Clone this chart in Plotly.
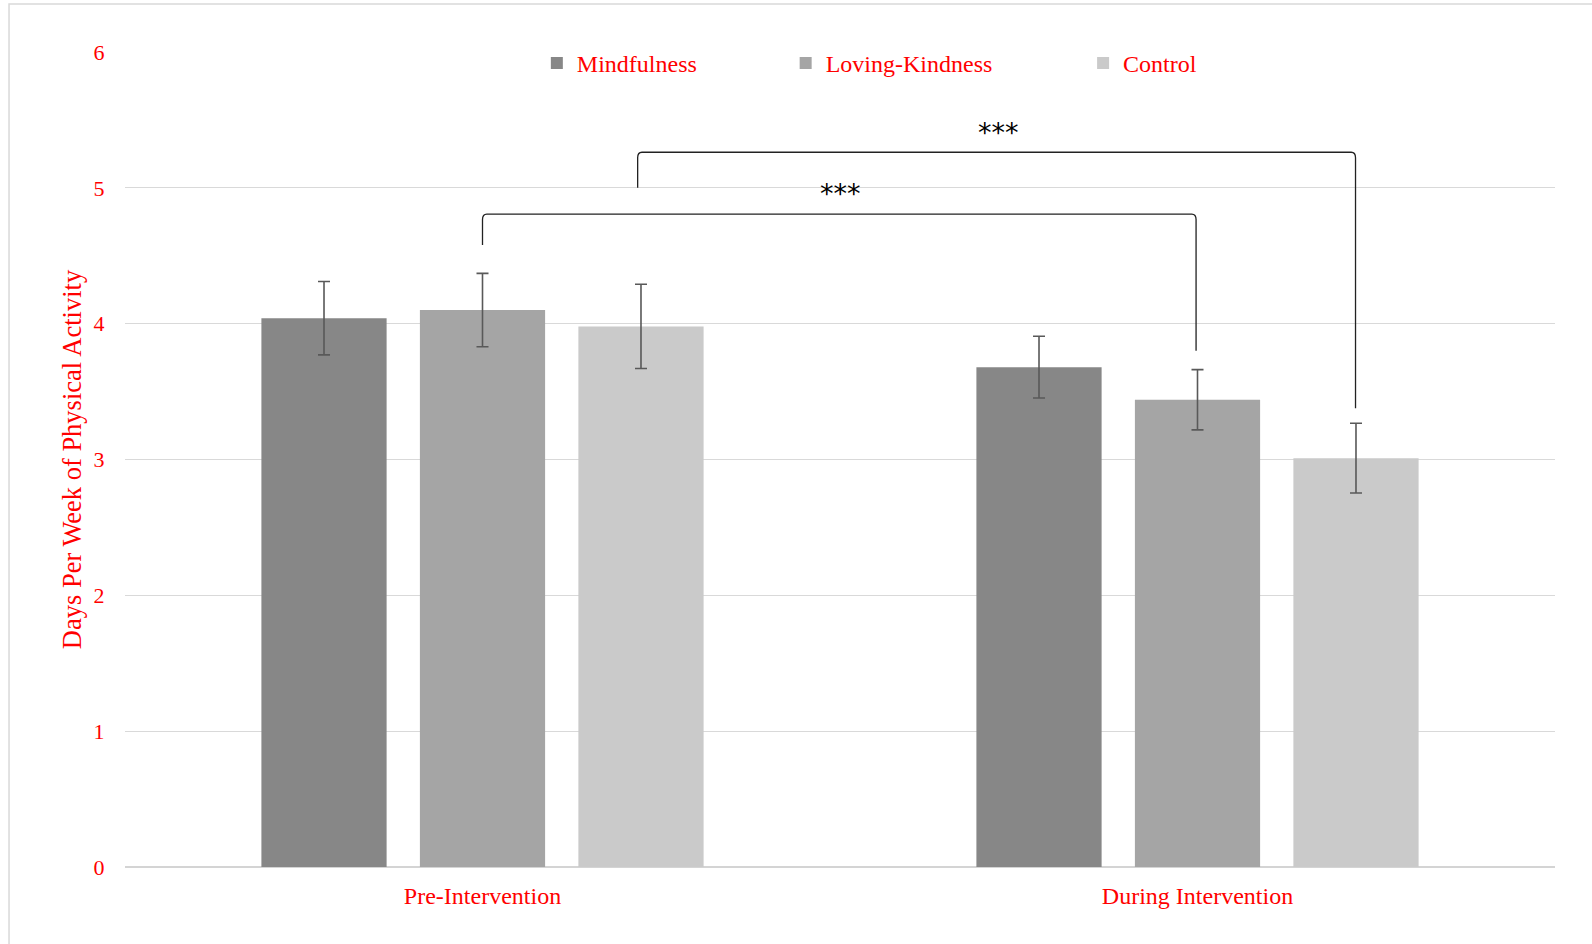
import plotly.graph_objects as go

# ---- data ----
categories = ["Pre-Intervention", "During Intervention"]
series_names = ["Mindfulness", "Loving-Kindness", "Control"]
mindfulness = [4.04, 3.68]
loving_kindness = [4.10, 3.44]
control = [3.98, 3.01]
mindfulness_err = [0.27, 0.227]
loving_kindness_err = [0.27, 0.222]
control_err = [0.31, 0.257]
y_ticks = [0, 1, 2, 3, 4, 5, 6]
sig_label = "***"

colors = ["#878787", "#a5a5a5", "#cacaca"]
values = [mindfulness, loving_kindness, control]
errors = [mindfulness_err, loving_kindness_err, control_err]
cat_pos = list(range(len(categories)))

FONT = "Liberation Serif, Times New Roman, serif"
RED = "#ff0000"

fig = go.Figure()
legend_ids = ["legend", "legend2", "legend3"]
for name, vals, errs, col, lg in zip(series_names, values, errors, colors, legend_ids):
    fig.add_trace(go.Bar(
        x=cat_pos, y=vals, name=name, legend=lg, showlegend=True,
        marker=dict(color=col, line=dict(width=0)),
        error_y=dict(type="data", array=errs, visible=True,
                     color="#595959", thickness=1.6, width=6),
    ))

# significance brackets (data coords)
def bracket(x0, x1, y_left, y_right, y_top, dx=0.006, dy=0.04):
    return (f"M {x0},{y_left} L {x0},{y_top-dy} Q {x0},{y_top} {x0+dx},{y_top} "
            f"L {x1-dx},{y_top} Q {x1},{y_top} {x1},{y_top-dy} L {x1},{y_right}")

shapes = [
    dict(type="path", xref="x", yref="y",
         path=bracket(0.0, 0.998, 4.58, 3.80, 4.806),
         line=dict(color="#222222", width=1.3)),
    dict(type="path", xref="x", yref="y",
         path=bracket(0.217, 1.221, 5.0, 3.378, 5.262),
         line=dict(color="#222222", width=1.3)),
    # outer chart border
    dict(type="rect", xref="paper", yref="paper",
         x0=-0.0811, x1=1.1, y0=-0.3, y1=1.0589,
         line=dict(color="#d9d9d9", width=1.5), layer="below"),
]

STAR_FONT = dict(family="DejaVu Sans, sans-serif", size=27, color="#000000")
annotations = [
    dict(x=0.5, y=4.96, xref="x", yref="y", text=sig_label, showarrow=False,
         font=STAR_FONT),
    dict(x=0.7214, y=5.405, xref="x", yref="y", text=sig_label, showarrow=False,
         font=STAR_FONT),
]

legend_common = dict(orientation="h", yanchor="middle", xanchor="left",
                     font=dict(family=FONT, size=24, color=RED),
                     bgcolor="rgba(0,0,0,0)", borderwidth=0)

fig.update_layout(
    width=1592, height=944,
    showlegend=True,
    margin=dict(l=125, r=37, t=52, b=77),
    paper_bgcolor="white", plot_bgcolor="white",
    barmode="group", bargap=0.335, bargroupgap=0.21,
    font=dict(family=FONT, color=RED),
    shapes=shapes, annotations=annotations,
    legend=dict(x=0.288, y=0.986, **legend_common),
    legend2=dict(x=0.462, y=0.986, **legend_common),
    legend3=dict(x=0.670, y=0.986, **legend_common),
    xaxis=dict(range=[-0.5, 1.5], tickvals=cat_pos, ticktext=categories,
               showgrid=False, zeroline=False, showline=False,
               ticks="outside", ticklen=7, tickcolor="rgba(0,0,0,0)",
               tickfont=dict(family=FONT, size=24, color=RED)),
    yaxis=dict(range=[0, 6], tickvals=y_ticks,
               showgrid=True, gridcolor="#d9d9d9", gridwidth=1.3,
               zeroline=True, zerolinecolor="#d4d4d4", zerolinewidth=2.2,
               showline=False,
               ticks="outside", ticklen=15, tickcolor="rgba(0,0,0,0)",
               tickfont=dict(family=FONT, size=22, color=RED),
               title=dict(text="Days Per Week of Physical Activity",
                          font=dict(family=FONT, size=26.5, color=RED),
                          standoff=4)),
)

fig.write_html("out.html", config={"displayModeBar": False},
               post_script="document.body.style.margin='0';")
